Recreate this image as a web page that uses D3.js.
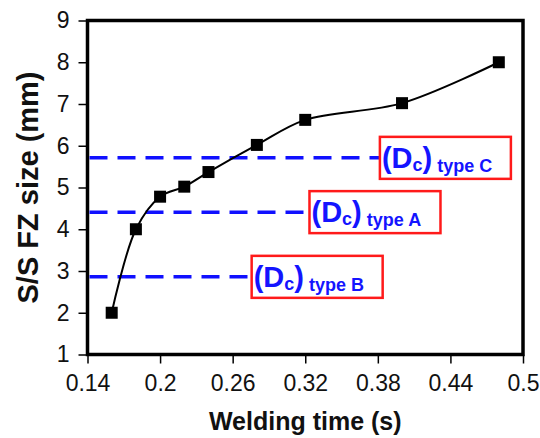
<!DOCTYPE html>
<html>
<head>
<meta charset="utf-8">
<script src="https://cdn.jsdelivr.net/npm/d3@7/dist/d3.min.js"></script>
<style>
html,body{margin:0;padding:0;background:#fff;}
svg{display:block;font-family:"Liberation Sans",Arial,sans-serif;}
</style>
</head>
<body>
<svg id="chart" width="540" height="438"></svg>
<script>
// ---- data ----
const weldTime = [0.16, 0.18, 0.20, 0.22, 0.24, 0.28, 0.32, 0.40, 0.48];
const fzSize   = [2.0, 4.0, 4.78, 5.02, 5.37, 6.02, 6.62, 7.02, 8.0];
const xTicks = [0.14, 0.2, 0.26, 0.32, 0.38, 0.44, 0.5];
const xTickLabels = ["0.14", "0.2", "0.26", "0.32", "0.38", "0.44", "0.5"];
const yTicks = [1, 2, 3, 4, 5, 6, 7, 8, 9];
const dcTypes = ["C", "A", "B"];
const dcValues = [5.71, 4.41, 2.86];
const dcLineEnds = [0.3817, 0.3235, 0.2757];
const xTitle = "Welding time (s)";
const yTitle = "S/S FZ size (mm)";

const W = 540, H = 438;
const margin = {left: 87.5, right: 17, top: 20.5, bottom: 83.5};
const svg = d3.select("#chart");

const x = d3.scaleLinear().domain([0.14, 0.5]).range([margin.left, W - margin.right]);
const y = d3.scaleLinear().domain([1, 9]).range([H - margin.bottom, margin.top]);

// axes
const xAxis = d3.axisBottom(x).tickValues(xTicks)
  .tickFormat((d, i) => xTickLabels[i]).tickSize(9).tickPadding(11);
const yAxis = d3.axisLeft(y).tickValues(yTicks).tickFormat(d3.format("d")).tickSize(9).tickPadding(9);

const gx = svg.append("g").attr("transform", `translate(0,${y(1)})`).call(xAxis);
const gy = svg.append("g").attr("transform", `translate(${x(0.14)},0)`).call(yAxis);
[gx, gy].forEach(g => {
  g.select(".domain").remove();
  g.selectAll(".tick line").attr("stroke", "#000").attr("stroke-width", 1.5);
  g.selectAll(".tick text").attr("fill", "#111").style("font-size", "23px")
    .style("font-family", "'Liberation Sans', Arial, sans-serif");
});

// frame
svg.append("rect")
  .attr("x", x(0.14)).attr("y", y(9))
  .attr("width", x(0.5) - x(0.14)).attr("height", y(1) - y(9))
  .attr("fill", "none").attr("stroke", "#000").attr("stroke-width", 3.5);

// dashed reference lines
const dc = dcTypes.map((t, i) => ({type: t, v: dcValues[i], end: dcLineEnds[i]}));
svg.append("g").selectAll("line").data(dc).join("line")
  .attr("x1", x(0.14) + 2).attr("x2", d => x(d.end))
  .attr("y1", d => y(d.v)).attr("y2", d => y(d.v))
  .attr("stroke", "#1010ff").attr("stroke-width", 3.5)
  .attr("stroke-dasharray", "18,10");

// data line
const pts = weldTime.map((t, i) => [t, fzSize[i]]);
const line = d3.line().x(d => x(d[0])).y(d => y(d[1])).curve(d3.curveCatmullRom.alpha(0.5));
svg.append("path").datum(pts).attr("d", line)
  .attr("fill", "none").attr("stroke", "#000").attr("stroke-width", 2);

// markers
const ms = 12;
svg.append("g").selectAll("rect").data(pts).join("rect")
  .attr("x", d => x(d[0]) - ms / 2).attr("y", d => y(d[1]) - ms / 2)
  .attr("width", ms).attr("height", ms).attr("fill", "#000");

// labels
const boxW = 131, boxH = 42;
const lab = svg.append("g").selectAll("g").data(dc).join("g")
  .attr("transform", d => `translate(${x(d.end)},${y(d.v) - boxH / 2})`);
lab.append("rect").attr("x", 0).attr("y", 0).attr("width", boxW).attr("height", boxH)
  .attr("fill", "#fff").attr("stroke", "#ff1a1a").attr("stroke-width", 2.5);
const txt = lab.append("text").attr("x", 2).attr("y", 31)
  .attr("fill", "#1414ff").attr("font-weight", "bold");
txt.append("tspan").style("font-size", "29px").text("(D");
txt.append("tspan").style("font-size", "18px").attr("dy", 3).text("c");
txt.append("tspan").style("font-size", "29px").attr("dy", -3).text(")");
txt.append("tspan").style("font-size", "18px").attr("dy", 4).text(d => "\u00a0type " + d.type);

// axis titles
svg.append("text").attr("x", (x(0.14) + x(0.5)) / 2).attr("y", 430)
  .attr("text-anchor", "middle").attr("font-weight", "bold")
  .style("font-size", "25px").attr("fill", "#111").text(xTitle);
svg.append("text").attr("transform", `translate(38,${(y(1) + y(9)) / 2}) rotate(-90)`)
  .attr("text-anchor", "middle").attr("font-weight", "bold")
  .style("font-size", "29px").attr("fill", "#111").text(yTitle);
</script>
</body>
</html>
